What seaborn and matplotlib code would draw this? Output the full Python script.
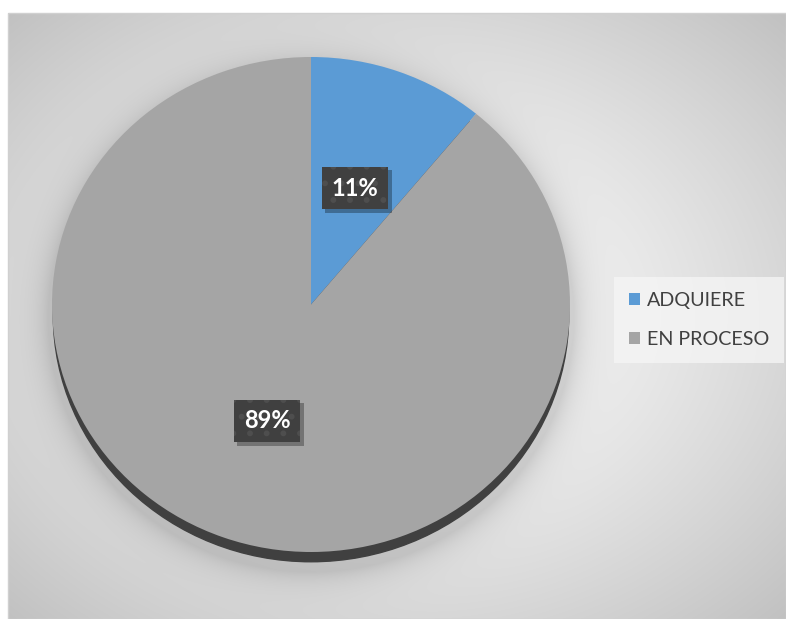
import numpy as np
import matplotlib
matplotlib.use("Agg")
import matplotlib.pyplot as plt
import matplotlib.patheffects as pe
from matplotlib.patches import Ellipse, Rectangle
import seaborn as sns

categories = ["ADQUIERE", "EN PROCESO"]
values = [11, 89]
colors = ["#5B9BD5", "#A5A5A5"]

sns.set_theme(style="white")
plt.rcParams["font.family"] = ["Lato", "DejaVu Sans"]
plt.rcParams["hatch.linewidth"] = 1.8


class BoxShadow(pe.AbstractPathEffect):
    """Plain (unhatched) soft drop shadow for a label box."""

    def __init__(self, offset=(2.5, -2.5), alpha=0.3):
        super().__init__(offset)
        self.alpha = alpha

    def draw_path(self, renderer, gc, tpath, affine, rgbFace=None):
        gc0 = renderer.new_gc()
        gc0.copy_properties(gc)
        gc0.set_hatch(None)
        gc0.set_linewidth(0)
        gc0.set_alpha(self.alpha)
        renderer.draw_path(gc0, tpath, affine + self._offset_transform(renderer), (0, 0, 0))
        gc0.restore()


W, H = 786, 619
fig = plt.figure(figsize=(W / 100, H / 100), dpi=100)
fig.patch.set_facecolor("white")

# ---- background (chart area gradient + pie halo) ----
bg = fig.add_axes([0, 0, 1, 1])
bg.set_xlim(0, W)
bg.set_ylim(H, 0)
bg.axis("off")
yy, xx = np.mgrid[0:H, 0:W] + 0.5
cx0, cy0 = 397, 316
d = np.sqrt(((xx - cx0) / 389) ** 2 + ((yy - cy0) / 303) ** 2)
v = 1 - 0.155 * d ** 1.3
pcx, pcy, prx, pry = 311, 304, 259, 248
ds = np.sqrt(((xx - pcx) / (prx + 4)) ** 2 + ((yy - pcy - 14) / (pry + 6)) ** 2)
halo = np.exp(-np.clip(ds - 1, 0, None) / 0.06)
v = v * (1 - 0.14 * halo)
img = np.stack([v, v, v], axis=-1)
img[:13, :, :] = 1.0
img[:, :8, :] = 1.0
bg.imshow(img, extent=(0, W, H, 0), interpolation="bilinear", zorder=0)
bg.add_patch(Rectangle((8, 13), W - 8, H - 13, fill=False, edgecolor="#d0d0d0", lw=1, zorder=1))

# ---- dark shadow rim under the pie ----
l, r, t, b = 52, 570, 57, 552
sh = fig.add_axes([l / W, 1 - (b + 11) / H, (r - l) / W, (b - t) / H])
sh.axis("off")
sh.set_xlim(-1, 1)
sh.set_ylim(-1, 1)
sh.add_patch(Ellipse((0, 0), 1.99, 1.99, color="#404040"))

# ---- pie ----
ax = fig.add_axes([l / W, 1 - b / H, (r - l) / W, (b - t) / H])
ax.patch.set_alpha(0)
wedges, texts, autotexts = ax.pie(
    values, colors=colors, startangle=90, counterclock=False,
    autopct="%1.0f%%", pctdistance=0.5,
    wedgeprops=dict(linewidth=0),
    textprops=dict(color="white", fontsize=17, fontweight="bold", zorder=5),
)
ax.set_aspect("auto")
ax.set_xlim(-1, 1)
ax.set_ylim(-1, 1)
ax.axis("off")

for at in autotexts:
    at.set_bbox(dict(boxstyle="square,pad=0.42", facecolor="#404040",
                     edgecolor="#4e4e4e", linewidth=0, hatch="."))
    at.get_bbox_patch().set_path_effects([BoxShadow((2.5, -2.5), 0.3), pe.Normal()])

# ---- legend ----
leg = fig.legend(
    wedges, categories, loc="center left",
    bbox_to_anchor=(614 / W, 1 - 320 / H),
    frameon=True, fontsize=14.2, handlelength=0.55, handleheight=0.55,
    handletextpad=0.35, labelspacing=1.15, borderpad=0.75, borderaxespad=0,
    fancybox=False,
)
leg.get_frame().set_facecolor("#f6f6f6")
leg.get_frame().set_alpha(0.75)
leg.get_frame().set_linewidth(0)
for txt in leg.get_texts():
    txt.set_color("#404040")

fig.savefig("out.png", dpi=100, facecolor="white")
